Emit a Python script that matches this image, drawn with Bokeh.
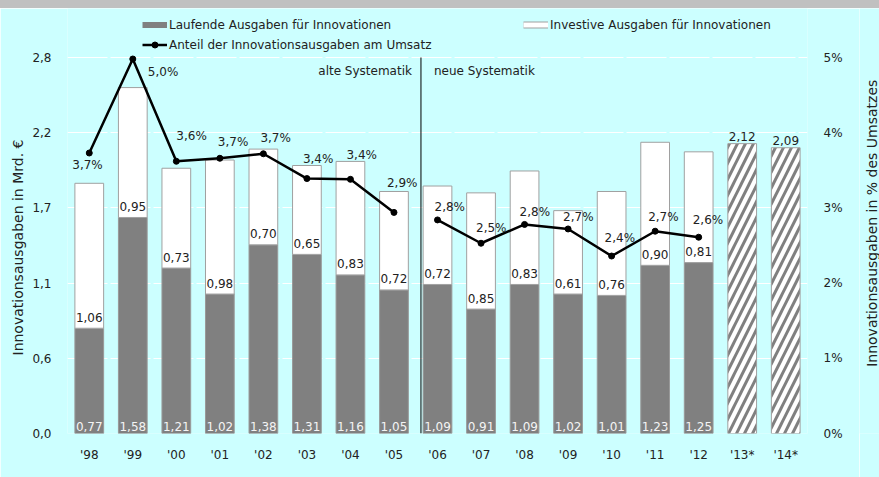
import numpy as np
from bokeh.plotting import figure
from bokeh.models import (ColumnDataSource, FactorRange, Range1d, LinearAxis, FixedTicker,
                          CustomJSTickFormatter, Legend, LegendItem, Div, Title)
from bokeh.layouts import column, row
from bokeh.core.properties import value
from bokeh.embed import file_html
from bokeh.resources import INLINE

# ---------------- data ----------------
years = ["'98", "'99", "'00", "'01", "'02", "'03", "'04", "'05", "'06", "'07",
         "'08", "'09", "'10", "'11", "'12", "'13*", "'14*"]
actual_years = years[:15]
forecast_years = ["'13*", "'14*"]
laufende = [0.77, 1.58, 1.21, 1.02, 1.38, 1.31, 1.16, 1.05, 1.09, 0.91, 1.09, 1.02, 1.01, 1.23, 1.25]
investive = [1.06, 0.95, 0.73, 0.98, 0.70, 0.65, 0.83, 0.72, 0.72, 0.85, 0.83, 0.61, 0.76, 0.90, 0.81]
forecast_total = [2.12, 2.09]
anteil_pct = [3.73, 4.98, 3.62, 3.66, 3.72, 3.39, 3.38, 2.94, 2.84, 2.53, 2.78, 2.72, 2.36, 2.69, 2.61]
new_system_start = "'06"
AXIS_MAX = 2.75
PCT_MAX = 5
left_ticks = list(np.linspace(0, AXIS_MAX, 6))
right_ticks = [0, 1, 2, 3, 4, 5]

# ---------------- styles / layout ----------------
FONT = "DejaVu Sans"
BG = "#ccffff"
GRAY = "#808080"
EDGE = "#a0a0a0"
TXT = "#222222"
BAR_W = 0.66
W, H = 859, 469          # main figure; a 20px strip to the right holds the right title
W2 = 20
BORDER_L, BORDER_B = 67, 44
BORDER_R = W - 807
TOP_PAD = 49             # px of frame kept above the top gridline (room for the legend)
FRAME_H = H - BORDER_B
SCALE_EXT = FRAME_H / (FRAME_H - TOP_PAD)
# label offsets (px) of the percentage labels relative to their points
pct_dx = [-17, 15, 0, -2, -3, -4, -4, -7, -3, -5, -5, -5, -7, -7, -6]
pct_dy = [12, 13, -25, -16, -16, -20, -24, -29, -13, -15, -12, -12, -18, -14, -17]

def de(v, d=2):
    return f"{v:.{d}f}".replace(".", ",")

p = figure(width=W, height=H,
           x_range=FactorRange(factors=years, range_padding=0),
           y_range=Range1d(0, AXIS_MAX * SCALE_EXT),
           output_backend="svg", toolbar_location=None,
           min_border_left=BORDER_L, min_border_right=BORDER_R, min_border_top=0,
           min_border_bottom=BORDER_B,
           background_fill_color=BG, border_fill_color=BG, outline_line_color=None)
p.extra_y_ranges = {"pct": Range1d(0, PCT_MAX * SCALE_EXT)}

# bars
src = ColumnDataSource(dict(
    x=actual_years, lauf=laufende,
    total=[a + b for a, b in zip(laufende, investive)],
    lauf_lbl=[de(v) for v in laufende], inv_lbl=[de(v) for v in investive]))
p.vbar(x="x", bottom=0, top="lauf", width=BAR_W, fill_color=GRAY,
       line_color="#999999", line_width=1, source=src)
p.vbar(x="x", bottom="lauf", top="total", width=BAR_W, fill_color="white",
       line_color=EDGE, line_width=1, source=src)
fsrc = ColumnDataSource(dict(x=forecast_years, top=forecast_total,
                             lbl=[de(v) for v in forecast_total]))
p.vbar(x="x", bottom=0, top="top", width=BAR_W, fill_color="white", line_color=EDGE,
       hatch_pattern="/", hatch_color=GRAY, hatch_weight=3, hatch_scale=16, source=fsrc)

txt_kw = dict(text_font=value(FONT), text_font_size="12px", text_align="center",
              text_baseline="alphabetic")
p.text(x="x", y=0, text="lauf_lbl", text_color="#f4f4f4", y_offset=-7, source=src, **txt_kw)
p.text(x="x", y="lauf", text="inv_lbl", text_color=TXT, y_offset=-11, source=src, **txt_kw)
p.text(x="x", y="top", text="lbl", text_color=TXT, y_offset=-7, source=fsrc, **txt_kw)

# percentage line (broken at the change of systematics)
brk = years.index(new_system_start)
line_rs = []
for sl in (slice(0, brk), slice(brk, len(anteil_pct))):
    s = ColumnDataSource(dict(x=actual_years[sl], y=anteil_pct[sl],
                              lbl=[de(v, 1) + "%" for v in anteil_pct[sl]],
                              dx=pct_dx[sl], dy=pct_dy[sl]))
    lr = p.line(x="x", y="y", line_color="black", line_width=2.5, y_range_name="pct", source=s)
    sr = p.scatter(x="x", y="y", marker="circle", size=6, fill_color="black",
                   line_color="black", y_range_name="pct", source=s)
    p.text(x="x", y="y", text="lbl", x_offset="dx", y_offset="dy", text_align="left",
           text_baseline="middle", text_color=TXT, text_font=value(FONT),
           text_font_size="12px", y_range_name="pct", source=s)
    line_rs.append((lr, sr))

# separator and annotation
sep = brk + (1 - BAR_W) / 2 - 0.05
p.segment(x0=[sep], y0=[0], x1=[sep], y1=[AXIS_MAX], line_color="black", line_width=1)
p.text(x=[sep], y=[AXIS_MAX], text=["alte Systematik"], x_offset=-9, y_offset=13,
       text_align="right", text_baseline="alphabetic", text_color=TXT,
       text_font=value(FONT), text_font_size="12px")
p.text(x=[sep], y=[AXIS_MAX], text=["neue Systematik"], x_offset=13, y_offset=13,
       text_align="left", text_baseline="alphabetic", text_color=TXT,
       text_font=value(FONT), text_font_size="12px")

# axes
p.xgrid.visible = False
p.ygrid.grid_line_color = "white"
p.ygrid.grid_line_width = 1
p.ygrid.grid_line_dash = "40 3"

def style_axis(ax):
    ax.axis_line_color = None
    ax.major_tick_line_color = None
    ax.minor_tick_line_color = None
    ax.major_label_text_font = FONT
    ax.major_label_text_font_size = "12px"
    ax.major_label_text_color = TXT

p.yaxis.ticker = FixedTicker(ticks=left_ticks)
p.yaxis.formatter = CustomJSTickFormatter(
    code="return (Math.round(tick*10 + 1e-6)/10).toFixed(1).replace('.', ',')")
p.yaxis.major_label_standoff = 10
style_axis(p.yaxis[0])

p.xaxis.major_label_standoff = 8
style_axis(p.xaxis[0])

rax = LinearAxis(y_range_name="pct", ticker=FixedTicker(ticks=right_ticks),
                 formatter=CustomJSTickFormatter(code="return tick.toFixed(0) + '%'"))
rax.major_label_standoff = 10
style_axis(rax)
p.add_layout(rax, "right")

# left axis title, aligned with the plotted area (not the extended frame)
ltitle = Title(text="Innovationsausgaben in Mrd. €", align="left", offset=78,
               text_font=FONT, text_font_size="14px", text_font_style="normal",
               text_color=TXT, standoff=8)
p.add_layout(ltitle, "left")

# legend (swatches from hidden renderers)
sw_lauf = p.line(x="x", y="lauf", source=src, line_color=GRAY, line_width=6, visible=False)
sw_inv_o = p.line(x="x", y="total", source=src, line_color=EDGE, line_width=7, visible=False)
sw_inv_i = p.line(x="x", y="total", source=src, line_color="white", line_width=5, visible=False)

leg_kw = dict(label_text_font=FONT, label_text_font_size="12px", label_text_color=TXT,
              label_standoff=2, glyph_width=25, glyph_height=15, label_height=15,
              spacing=5, padding=0, margin=0, border_line_color=None,
              background_fill_alpha=0, click_policy="none")
leg1 = Legend(items=[
    LegendItem(label="Laufende Ausgaben für Innovationen", renderers=[sw_lauf]),
    LegendItem(label="Anteil der Innovationsausgaben am Umsatz", renderers=list(line_rs[0]))],
    location=(142 - BORDER_L, FRAME_H - 44), **leg_kw)
leg2 = Legend(items=[
    LegendItem(label="Investive Ausgaben für Innovationen", renderers=[sw_inv_o, sw_inv_i])],
    location=(523 - BORDER_L, FRAME_H - 24), **leg_kw)
p.add_layout(leg1)
p.add_layout(leg2)

# right axis title in a narrow strip (reads bottom to top, like the left one)
p2 = figure(width=W2, height=H, x_range=Range1d(0, W2), y_range=Range1d(0, H),
            x_axis_type=None, y_axis_type=None, output_backend="svg", toolbar_location=None,
            min_border=0, background_fill_color=BG, border_fill_color=BG,
            outline_line_color=None)
p2.grid.visible = False
p2.text(x=[W2 - 8], y=[BORDER_B + (FRAME_H - TOP_PAD) / 2],
        text=["Innovationsausgaben in % des Umsatzes"], angle=np.pi / 2,
        text_align="center", text_baseline="middle", text_color=TXT,
        text_font=value(FONT), text_font_size="14px")

band = Div(width=W + W2, height=8, margin=0, styles={"background-color": "#c0c0c0"})
layout = column(band, row(p, p2, spacing=0), spacing=0)

open("out.html", "w").write(file_html(layout, INLINE))
